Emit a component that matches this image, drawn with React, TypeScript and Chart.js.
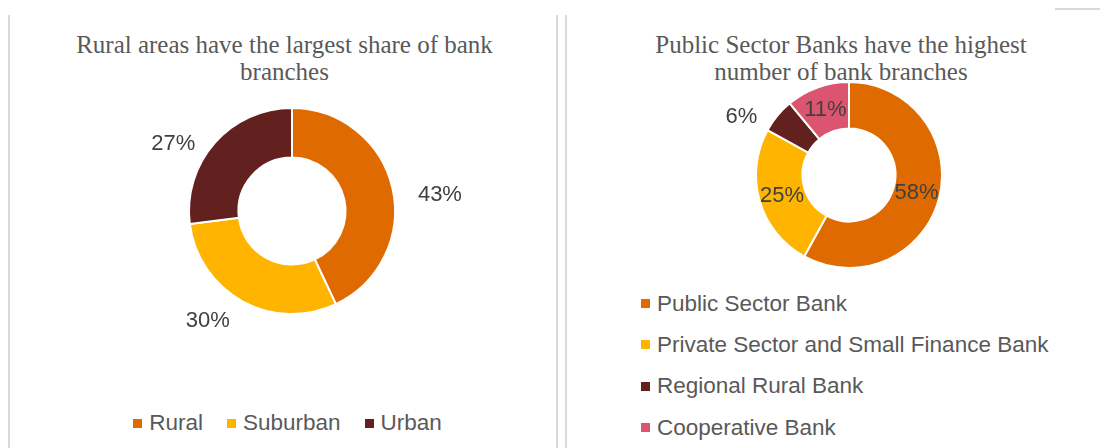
import React, { useEffect, useRef } from "react";
import { Chart, registerables } from "chart.js";

Chart.register(...registerables);

// ---- Data ----
const regionCategories = ["Rural", "Suburban", "Urban"];
const regionShares = [43, 30, 27];
const regionLabelModes = ["outside", "outside", "outside"];

const bankCategories = [
  "Public Sector Bank",
  "Private Sector and Small Finance Bank",
  "Regional Rural Bank",
  "Cooperative Bank",
];
const bankShares = [58, 25, 6, 11];
const bankLabelModes = ["inside", "inside", "outside", "inside"];

const leftTitleLines = ["Rural areas have the largest share of bank", "branches"];
const rightTitleLines = ["Public Sector Banks have the highest", "number of bank branches"];

// ---- Styles ----
const regionColors = ["#DF6A00", "#FFB400", "#62211F"];
const bankColors = ["#DF6A00", "#FFB400", "#62211F", "#DB5571"];
const SANS = "'Liberation Sans', Arial, sans-serif";
const SERIF = "'Liberation Serif', 'Times New Roman', serif";

const sliceLabelPlugin = {
  id: "sliceLabels",
  afterDatasetsDraw(chart: any, _args: any, opts: any) {
    const { ctx } = chart;
    const meta = chart.getDatasetMeta(0);
    const values = chart.data.datasets[0].data;
    ctx.save();
    ctx.font = `${opts.size}px ${opts.family}`;
    ctx.fillStyle = opts.color;
    ctx.textAlign = "center";
    ctx.textBaseline = "middle";
    meta.data.forEach((arc: any, i: number) => {
      const p = arc.getProps(["x", "y", "startAngle", "endAngle", "innerRadius", "outerRadius"], true);
      const mid = (p.startAngle + p.endAngle) / 2;
      const dx = Math.cos(mid);
      const dy = Math.sin(mid);
      const text = `${values[i]}%`;
      let lx: number;
      let ly: number;
      if (opts.modes[i] === "inside") {
        const r = (p.innerRadius + p.outerRadius) / 2;
        lx = p.x + dx * r;
        ly = p.y + dy * r;
      } else {
        const w = ctx.measureText(text).width;
        lx = p.x + dx * p.outerRadius + Math.sign(dx) * (w / 2) + dx * opts.gapX;
        ly = p.y + dy * p.outerRadius + dy * opts.gapY + opts.shiftY;
      }
      ctx.fillText(text, lx, ly + 1);
    });
    ctx.restore();
  },
};

type DonutProps = {
  labels: string[];
  values: number[];
  colors: string[];
  modes: string[];
  cutout: string;
  padding: { left: number; right: number; top: number; bottom: number };
  style: React.CSSProperties;
  width: number;
  height: number;
};

function Donut({ labels, values, colors, modes, cutout, padding, style, width, height }: DonutProps) {
  const ref = useRef<HTMLCanvasElement | null>(null);
  useEffect(() => {
    if (!ref.current) return;
    const chart = new Chart(ref.current, {
      type: "doughnut",
      data: {
        labels,
        datasets: [
          {
            data: values,
            backgroundColor: colors,
            borderColor: "#ffffff",
            borderWidth: 2,
            hoverOffset: 0,
          },
        ],
      },
      options: {
        animation: false,
        responsive: false,
        maintainAspectRatio: false,
        cutout,
        layout: { padding },
        plugins: {
          legend: { display: false },
          tooltip: { enabled: false },
          title: { display: false },
          sliceLabels: {
            modes,
            size: 22,
            family: SANS,
            color: "#404040",
            gapX: 26,
            gapY: 12,
            shiftY: 8,
          },
        } as any,
      },
      plugins: [sliceLabelPlugin],
    });
    return () => chart.destroy();
  }, []);
  return <canvas ref={ref} width={width} height={height} style={{ position: "absolute", width, height, ...style }} />;
}

function Title({ lines, left, width }: { lines: string[]; left: number; width: number }) {
  return (
    <div
      style={{
        position: "absolute",
        left,
        top: 31,
        width,
        textAlign: "center",
        fontFamily: SERIF,
        fontSize: 25,
        lineHeight: "27px",
        color: "#595959",
        whiteSpace: "nowrap",
      }}
    >
      {lines.map((l, i) => (
        <div key={i}>{l}</div>
      ))}
    </div>
  );
}

function Marker({ color }: { color: string }) {
  return <span style={{ display: "inline-block", width: 9, height: 9, background: color, marginRight: 7 }} />;
}

export default function App() {
  useEffect(() => {
    document.body.style.margin = "0";
  }, []);
  return (
    <div
      style={{
        position: "absolute",
        left: 0,
        top: 0,
        width: 1100,
        height: 448,
        overflow: "hidden",
        background: "#ffffff",
      }}
    >
      {/* panel frames */}
      <div style={{ position: "absolute", left: 1055, top: 8, width: 60, height: 2, background: "#d9d9d9" }} />
      <div
        style={{
          position: "absolute",
          left: 8,
          top: 15,
          width: 546,
          height: 460,
          borderLeft: "2px solid #d9d9d9",
          borderRight: "2px solid #d9d9d9",
        }}
      />
      <div style={{ position: "absolute", left: 565, top: 15, width: 2, height: 460, background: "#d9d9d9" }} />

      {/* left chart */}
      <Title lines={leftTitleLines} left={20} width={529} />
      <Donut
        labels={regionCategories}
        values={regionShares}
        colors={regionColors}
        modes={regionLabelModes}
        cutout="52%"
        width={545}
        height={380}
        style={{ left: 10, top: 15 }}
        padding={{ left: 178, right: 159, top: 92, bottom: 80 }}
      />
      <div
        style={{
          position: "absolute",
          left: 10,
          width: 555,
          top: 408,
          height: 30,
          display: "flex",
          justifyContent: "center",
          alignItems: "center",
          fontFamily: SANS,
          fontSize: 22.5,
          color: "#595959",
        }}
      >
        {regionCategories.map((c, i) => (
          <span key={c} style={{ display: "inline-flex", alignItems: "center", marginLeft: i ? 24 : 0 }}>
            <Marker color={regionColors[i]} />
            {c}
          </span>
        ))}
      </div>

      {/* right chart */}
      <Title lines={rightTitleLines} left={641} width={400} />
      <Donut
        labels={bankCategories}
        values={bankShares}
        colors={bankColors}
        modes={bankLabelModes}
        cutout="50%"
        width={532}
        height={260}
        style={{ left: 568, top: 15 }}
        padding={{ left: 187, right: 157, top: 66, bottom: 6 }}
      />
      <div
        style={{
          position: "absolute",
          left: 641,
          top: 283,
          fontFamily: SANS,
          fontSize: 22.5,
          color: "#595959",
        }}
      >
        {bankCategories.map((c, i) => (
          <div key={c} style={{ display: "flex", alignItems: "center", height: 41.3 }}>
            <Marker color={bankColors[i]} />
            {c}
          </div>
        ))}
      </div>
    </div>
  );
}
